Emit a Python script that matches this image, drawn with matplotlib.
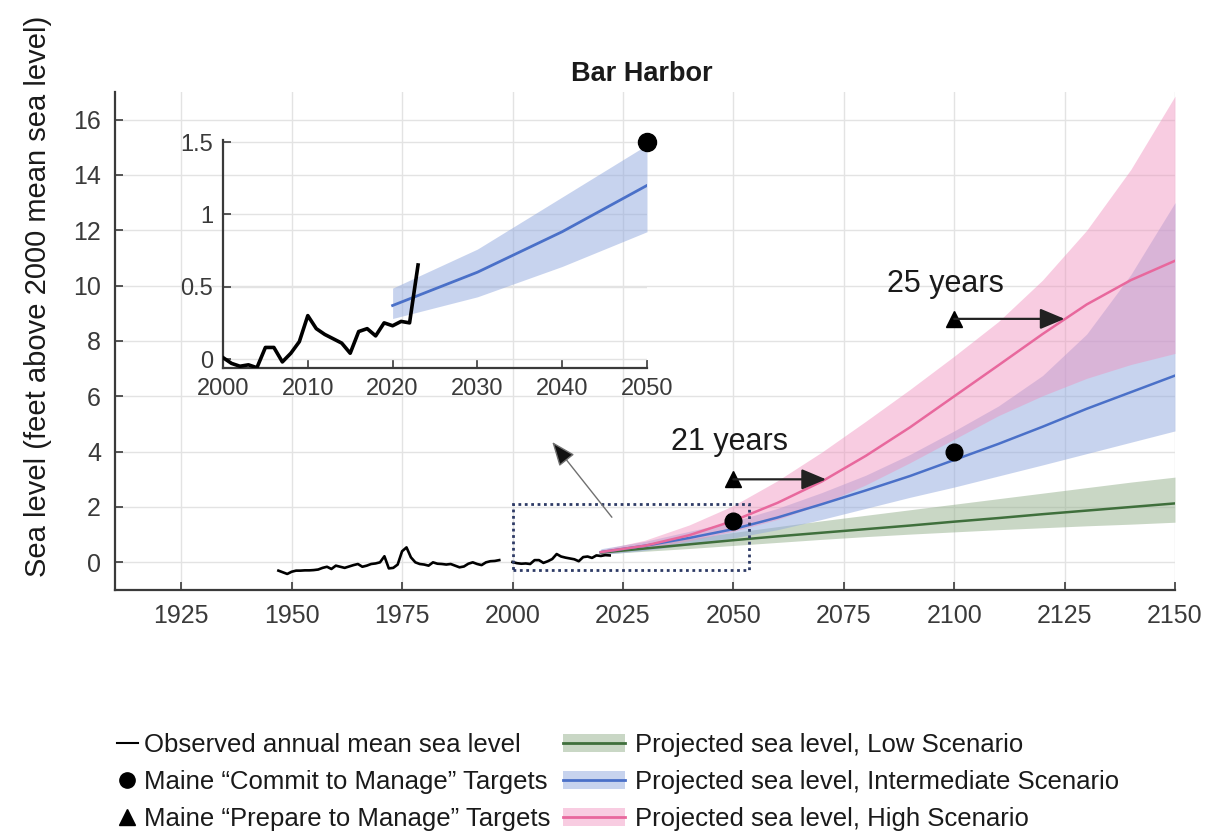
import matplotlib
matplotlib.use('Agg')
import matplotlib.pyplot as plt
import numpy as np
from matplotlib.patches import Patch, Rectangle
from matplotlib.lines import Line2D

plt.rcParams['font.family'] = ['Liberation Sans', 'DejaVu Sans']

# ---------------- data ----------------
obs_years = list(range(1947, 2024))
obs_vals = [-0.30, -0.36, -0.42, -0.34, -0.30, -0.30, -0.29, -0.29, -0.28, -0.26,
            -0.20, -0.16, -0.24, -0.12, -0.16, -0.20, -0.15, -0.10, -0.06, -0.16,
            -0.12, -0.06, -0.04, 0.00, 0.22, -0.22, -0.20, -0.08, 0.40, 0.54,
            0.18, 0.00, -0.06, -0.08, -0.12, 0.00, -0.05, -0.06, -0.08, -0.06,
            -0.12, -0.18, -0.15, -0.05, 0.00, -0.06, -0.10, 0.00, 0.04, 0.05,
            0.08, np.nan, np.nan,
            0.01, -0.03, -0.05, -0.04, -0.06, 0.08, 0.08, -0.02, 0.04, 0.12,
            0.30, 0.21, 0.17, 0.14, 0.11, 0.04, 0.19, 0.21, 0.16, 0.25,
            0.23, 0.26, 0.25, 0.65]
main_obs_end = 2022

proj_years = [2020, 2030, 2040, 2050, 2060, 2070, 2080, 2090, 2100, 2110, 2120, 2130, 2140, 2150]
low_mid = [0.35, 0.50, 0.65, 0.80, 0.94, 1.07, 1.20, 1.33, 1.47, 1.60, 1.74, 1.87, 2.00, 2.13]
low_hi = [0.40, 0.62, 0.85, 1.08, 1.29, 1.50, 1.70, 1.90, 2.10, 2.30, 2.50, 2.70, 2.90, 3.08]
low_lo = [0.30, 0.40, 0.50, 0.61, 0.72, 0.83, 0.93, 1.02, 1.10, 1.18, 1.25, 1.32, 1.38, 1.45]
int_mid = [0.37, 0.60, 0.88, 1.20, 1.62, 2.10, 2.60, 3.12, 3.70, 4.28, 4.90, 5.55, 6.15, 6.75]
int_hi = [0.49, 0.76, 1.12, 1.48, 1.95, 2.52, 3.15, 3.90, 4.75, 5.65, 6.75, 8.25, 10.40, 13.00]
int_lo = [0.28, 0.43, 0.64, 0.88, 1.18, 1.55, 1.95, 2.35, 2.72, 3.12, 3.52, 3.93, 4.34, 4.75]
high_mid = [0.37, 0.60, 0.98, 1.50, 2.15, 2.92, 3.85, 4.88, 6.00, 7.12, 8.25, 9.32, 10.20, 10.90]
high_hi = [0.45, 0.80, 1.35, 2.05, 2.95, 3.98, 5.10, 6.25, 7.45, 8.70, 10.20, 12.00, 14.20, 16.85]
high_lo = [0.30, 0.50, 0.78, 1.12, 1.55, 2.10, 2.80, 3.60, 4.45, 5.30, 6.02, 6.65, 7.15, 7.55]

commit_years = [2050, 2100]
commit_vals = [1.5, 4.0]
prepare_years = [2050, 2100]
prepare_vals = [3.0, 8.8]
lead_years = [21, 25]
lead_labels = ['21 years', '25 years']
lead_label_pos = [(2049.1, 4.35), (2098.0, 10.05)]

xticks = [1925, 1950, 1975, 2000, 2025, 2050, 2075, 2100, 2125, 2150]
yticks = [0, 2, 4, 6, 8, 10, 12, 14, 16]
in_xticks = [2000, 2010, 2020, 2030, 2040, 2050]
in_yticks = [0, 0.5, 1, 1.5]
in_yticklabels = ['0', '0.5', '1', '1.5']

legend_labels_1 = ['Observed annual mean sea level',
                   'Maine \u201cCommit to Manage\u201d Targets',
                   'Maine \u201cPrepare to Manage\u201d Targets']
legend_labels_2 = ['Projected sea level, Low Scenario',
                   'Projected sea level, Intermediate Scenario',
                   'Projected sea level, High Scenario']

# ---------------- style ----------------
green_line = '#3f6f3c'
green_band = (0.58, 0.69, 0.55)
blue_line = '#4a70c8'
blue_band = (0.57, 0.66, 0.87)
pink_line = '#e8689d'
pink_band = (0.94, 0.56, 0.74)
axis_col = '#3a3a3a'
grid_col = '#e3e3e3'

W, H = 1215, 838
fig = plt.figure(figsize=(W / 100, H / 100), dpi=100)
ax = fig.add_axes([115 / W, 1 - 590 / H, 1060 / W, 498 / H])

oy = np.array(obs_years, dtype=float)
ov = np.array(obs_vals, dtype=float)
py = np.array(proj_years, dtype=float)

ax.fill_between(py, low_lo, low_hi, color=green_band, alpha=0.5, lw=0, zorder=2)
ax.fill_between(py, int_lo, int_hi, color=blue_band, alpha=0.5, lw=0, zorder=2.1)
ax.fill_between(py, high_lo, high_hi, color=pink_band, alpha=0.45, lw=0, zorder=2.2)
ax.plot(py, low_mid, color=green_line, lw=1.8, zorder=3)
ax.plot(py, int_mid, color=blue_line, lw=1.8, zorder=3)
ax.plot(py, high_mid, color=pink_line, lw=1.8, zorder=3)
m = oy <= main_obs_end
ax.plot(oy[m], ov[m], color='black', lw=1.9, zorder=4)

ax.plot(commit_years, commit_vals, 'o', color='black', ms=12, zorder=6, clip_on=False)
ax.plot(prepare_years, prepare_vals, '^', color='black', ms=12, zorder=6, clip_on=False)
for yr, v, lead, lab, pos in zip(prepare_years, prepare_vals, lead_years, lead_labels, lead_label_pos):
    ax.annotate('', xy=(yr + lead, v), xytext=(yr, v),
                arrowprops=dict(arrowstyle='-|>,head_length=1.0,head_width=0.42',
                                color='#222222', lw=1.6, shrinkA=0, shrinkB=0,
                                mutation_scale=15), zorder=6)
    ax.text(pos[0], pos[1], lab, ha='center', va='center', fontsize=22, color='#1a1a1a', zorder=6)

# zoom rectangle and pointer arrow
ax.add_patch(Rectangle((2000, -0.27), 53.5, 2.39, fill=False, ec='#2e3b66', lw=2,
                       ls=(0, (1, 1.3)), zorder=5))
ax.annotate('', xy=(2009, 4.35), xytext=(2022.5, 1.63),
            arrowprops=dict(arrowstyle='-|>,head_length=1.0,head_width=0.4',
                            ec='#707070', fc='#111111', lw=1.0, shrinkA=0, shrinkB=0,
                            mutation_scale=15), zorder=5)

ax.set_xlim(1910, 2150)
ax.set_ylim(-1, 17)
ax.set_xticks(xticks)
ax.set_yticks(yticks)
ax.grid(True, color=grid_col, lw=1.0, zorder=0)
ax.set_axisbelow(True)
for s in ['top', 'right']:
    ax.spines[s].set_visible(False)
for s in ['left', 'bottom']:
    ax.spines[s].set_color(axis_col)
    ax.spines[s].set_linewidth(1.6)
ax.tick_params(direction='in', length=6, width=1.2, color=axis_col,
               labelsize=18, labelcolor='#3a3a3a')
ax.tick_params(axis='x', pad=10)
ax.tick_params(axis='y', pad=10)
ax.set_ylabel('Sea level (feet above 2000 mean sea level)', fontsize=21, color='#1a1a1a')
ax.yaxis.set_label_coords(-0.0594, 0.59)
ax.set_title('Bar Harbor', fontsize=19.5, fontweight='bold', color='#1a1a1a', pad=8, x=0.497)

# ---------------- inset ----------------
axi = fig.add_axes([223 / W, 1 - 368 / H, 424 / W, 228 / H])
axi.set_facecolor('none')
mi = py <= 2050
axi.fill_between(py[mi], np.array(int_lo)[mi], np.array(int_hi)[mi], color=blue_band,
                 alpha=0.5, lw=0, zorder=2)
axi.plot(py[mi], np.array(int_mid)[mi], color=blue_line, lw=2.0, zorder=3)
mo = oy >= 2000
axi.plot(oy[mo], ov[mo], color='black', lw=2.6, zorder=4)
axi.plot(commit_years[:1], commit_vals[:1], 'o', color='black', ms=13, zorder=6, clip_on=False)
axi.set_xlim(2000, 2050)
axi.set_ylim(-0.062, 1.514)
axi.set_xticks(in_xticks)
axi.set_yticks(in_yticks)
axi.set_yticklabels(in_yticklabels)
axi.grid(True, axis='y', color=grid_col, lw=1.0)
axi.set_axisbelow(True)
for s in ['top', 'right']:
    axi.spines[s].set_visible(False)
for s in ['left', 'bottom']:
    axi.spines[s].set_color(axis_col)
    axi.spines[s].set_linewidth(1.6)
axi.tick_params(direction='in', length=6, width=1.2, color=axis_col,
                labelsize=17, labelcolor='#3a3a3a', pad=7)

# ---------------- legends ----------------
h1 = [Line2D([], [], color='black', lw=1.5),
      Line2D([], [], ls='none', marker='o', color='black', ms=11),
      Line2D([], [], ls='none', marker='^', color='black', ms=12)]
h2 = [(Patch(fc=green_band, alpha=0.5, lw=0), Line2D([], [], color=green_line, lw=2)),
      (Patch(fc=blue_band, alpha=0.5, lw=0), Line2D([], [], color=blue_line, lw=2)),
      (Patch(fc=pink_band, alpha=0.45, lw=0), Line2D([], [], color=pink_line, lw=2))]
yc = 1 - 782 / H
leg1 = fig.legend(h1, legend_labels_1, loc='center left', bbox_to_anchor=(117 / W, yc),
                  frameon=False, fontsize=18.5, handlelength=0.8, handletextpad=0.25,
                  labelspacing=0.5, borderpad=0, borderaxespad=0)
leg2 = fig.legend(h2, legend_labels_2, loc='center left', bbox_to_anchor=(563 / W, yc),
                  frameon=False, fontsize=18.5, handlelength=2.4, handletextpad=0.4,
                  labelspacing=0.5, borderpad=0, borderaxespad=0)
for lg in (leg1, leg2):
    for t in lg.get_texts():
        t.set_color('#1a1a1a')

fig.savefig('out.png', dpi=100)
